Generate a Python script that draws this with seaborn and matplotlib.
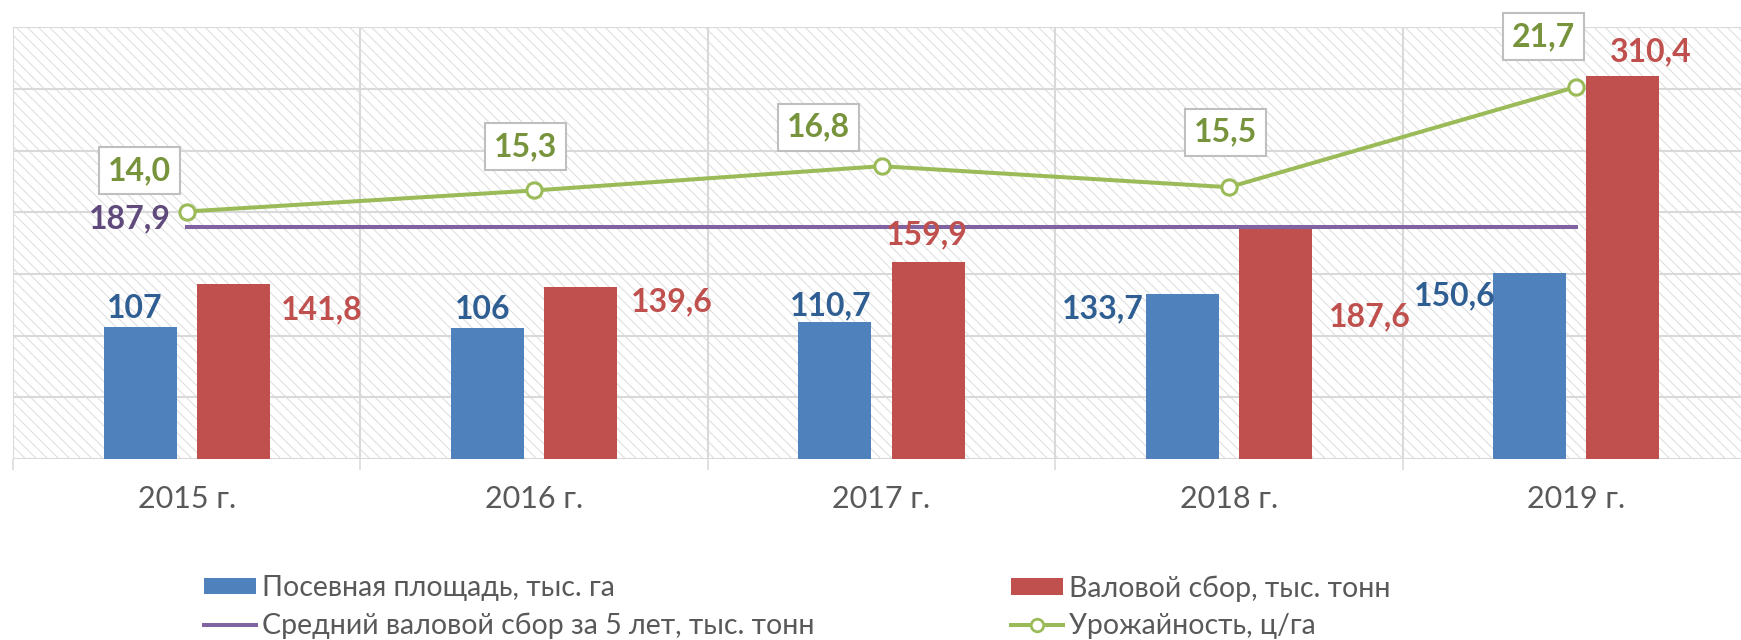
import numpy as np
import pandas as pd
import matplotlib
matplotlib.use('Agg')
import matplotlib.pyplot as plt
import seaborn as sns
from matplotlib.patches import Patch
from matplotlib.lines import Line2D
from matplotlib.ticker import FixedLocator

# ---------------- data ----------------
years = ['2015 г.', '2016 г.', '2017 г.', '2018 г.', '2019 г.']
area = [107, 106, 110.7, 133.7, 150.6]            # Посевная площадь, тыс. га
harvest = [141.8, 139.6, 159.9, 187.6, 310.4]     # Валовой сбор, тыс. тонн
avg_harvest = [187.9, 187.9, 187.9, 187.9, 187.9]  # Средний валовой сбор за 5 лет
yields = [14.0, 15.3, 16.8, 15.5, 21.7]           # Урожайность, ц/га
series_names = ['Посевная площадь, тыс. га',
                'Валовой сбор, тыс. тонн',
                'Средний валовой сбор за 5 лет, тыс. тонн',
                'Урожайность, ц/га']

# ---------------- style ----------------
BLUE = '#4f81bd'
RED = '#c0504d'
PURPLE = '#8064a2'
GREEN = '#9bbb59'
BLUE_TXT = '#2f5e93'
RED_TXT = '#c0504d'
PURPLE_TXT = '#604a7b'
GREEN_TXT = '#77933c'
GRAY_TXT = '#595959'
GRID = '#d9d9d9'

plt.rcParams['font.family'] = ['Lato', 'DejaVu Sans']
plt.rcParams['hatch.linewidth'] = 0.7
plt.rcParams['hatch.color'] = '#dcdcdc'

W, H = 1741, 640
fig = plt.figure(figsize=(W / 100, H / 100), dpi=100)
ax = fig.add_axes([13 / W, 1 - 459 / H, (1750 - 13) / W, (459 - 27.3) / H])
ax.patch.set_facecolor('white')
ax.patch.set_edgecolor('#dcdcdc')
ax.patch.set_linewidth(0)
ax.patch.set_hatch('\\\\\\')

df = pd.DataFrame({
    'year': years * 2,
    'value': area + harvest,
    'series': [series_names[0]] * len(years) + [series_names[1]] * len(years),
})
sns.barplot(data=df, x='year', y='value', hue='series', palette=[BLUE, RED],
            width=0.536, gap=0.216, saturation=1, errorbar=None, legend=False,
            ax=ax, zorder=2)

xpos = np.arange(len(years))
sns.lineplot(x=xpos, y=avg_harvest, ax=ax, color=PURPLE, linewidth=2.9, zorder=3)

ax.set_xlim(-0.5, len(years) - 0.5)
ax.set_ylim(0, 350)
ax.set_yticks(np.arange(0, 351, 50))
ax.tick_params(axis='y', length=0, labelleft=False)
ax.set_xticks(xpos)
ax.set_xticklabels(years)
ax.xaxis.set_minor_locator(FixedLocator(np.arange(-0.5, len(years), 1)))
ax.set_axisbelow(True)
ax.grid(axis='y', which='major', color=GRID, linewidth=1.5)
ax.grid(axis='x', which='major', visible=False)
ax.grid(axis='x', which='minor', color=GRID, linewidth=1.5)
for s in ax.spines.values():
    s.set_visible(False)
ax.tick_params(axis='x', which='major', length=0, pad=19, labelsize=22,
               labelcolor=GRAY_TXT)
ax.tick_params(axis='x', which='minor', length=8, width=1.1, color=GRID)
ax.set_xlabel('')
ax.set_ylabel('')


def fmt_num(v):
    return ('%g' % v).replace('.', ',')


def fmt_one(v):
    return ('%.1f' % v).replace('.', ',')


# data labels for bars (offsets in pixels from bar top centre)
blue_off = [(-5, 19), (-5, 19), (-4, 17), (-80, -15), (-75, -23)]
red_off = [(89, -26), (91, -15), (-1, 27), (94, -89), (28, 24)]
LBL = 23
for bar, v, off in zip(ax.containers[0], area, blue_off):
    cx = bar.get_x() + bar.get_width() / 2
    ax.annotate(fmt_num(v), xy=(cx, bar.get_height()), xytext=off,
                textcoords='offset pixels', ha='center', va='center',
                fontsize=LBL, fontweight='bold', color=BLUE_TXT, zorder=5)
for bar, v, off in zip(ax.containers[1], harvest, red_off):
    cx = bar.get_x() + bar.get_width() / 2
    ax.annotate(fmt_num(v), xy=(cx, bar.get_height()), xytext=off,
                textcoords='offset pixels', ha='center', va='center',
                fontsize=LBL, fontweight='bold', color=RED_TXT, zorder=5)

ax.annotate(fmt_num(avg_harvest[0]), xy=(xpos[0], avg_harvest[0]), xytext=(-57, 8),
            textcoords='offset pixels', ha='center', va='center',
            fontsize=LBL, fontweight='bold', color=PURPLE_TXT, zorder=5)

# yield on secondary axis
ax2 = ax.twinx()
sns.lineplot(x=xpos, y=yields, ax=ax2, color=GREEN, linewidth=2.9, marker='o',
             markersize=11, markerfacecolor='white', markeredgecolor=GREEN,
             markeredgewidth=2.2, zorder=4)
ax2.set_ylim(-1.29, 25.38)
ax2.set_xlim(-0.5, len(years) - 0.5)
ax2.set_axis_off()

green_off = [(-47, 41), (-9, 44), (-63, 39), (-3, 55), (-33, 50)]
for x, v, off in zip(xpos, yields, green_off):
    ax2.annotate(fmt_one(v), xy=(x, v), xytext=off, textcoords='offset pixels',
                 ha='center', va='center', fontsize=LBL, fontweight='bold',
                 color=GREEN_TXT, zorder=6,
                 bbox=dict(boxstyle='square,pad=0.28', facecolor='white',
                           edgecolor='#bfbfbf', linewidth=1.5))

# legend
h_blue = Patch(facecolor=BLUE, edgecolor='none', label=series_names[0])
h_red = Patch(facecolor=RED, edgecolor='none', label=series_names[1])
h_purple = Line2D([], [], color=PURPLE, linewidth=2.9, label=series_names[2])
h_green = Line2D([], [], color=GREEN, linewidth=2.9, marker='o', markersize=9,
                 markerfacecolor='white', markeredgecolor=GREEN,
                 markeredgewidth=2, label=series_names[3])
leg_kw = dict(loc='center left', frameon=False, fontsize=20.5, labelcolor=GRAY_TXT,
              handlelength=1.82, handleheight=0.52, handletextpad=0.21,
              labelspacing=0.4, borderpad=0, borderaxespad=0)
leg1 = fig.legend(handles=[h_blue, h_purple], bbox_to_anchor=(204 / W, 1 - 607 / H),
                  **leg_kw)
leg2 = fig.legend(handles=[h_red, h_green], bbox_to_anchor=(1011 / W, 1 - 607 / H),
                  **leg_kw)

fig.savefig('out.png', dpi=100)
